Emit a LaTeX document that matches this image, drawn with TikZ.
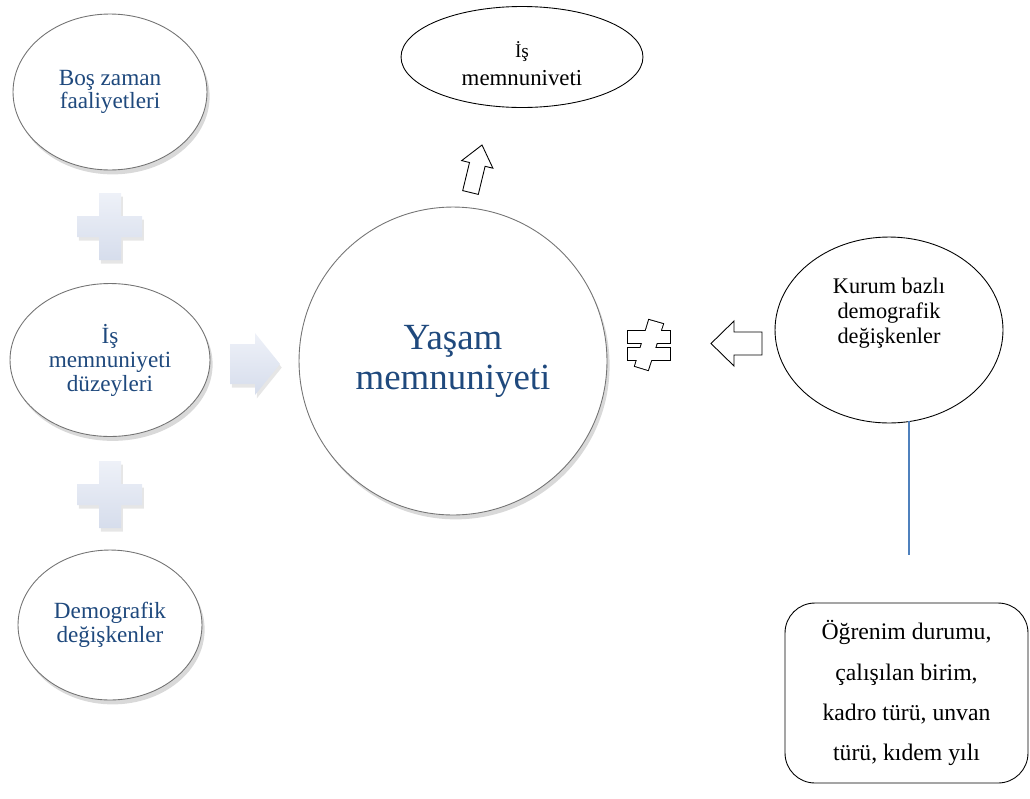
\documentclass[tikz,border=0pt]{standalone}
\usepackage{fontspec}
\setmainfont{Liberation Serif}
\definecolor{titleBlue}{RGB}{31, 73, 125}
\definecolor{lineBlue}{RGB}{79, 129, 189}
\definecolor{plusTop}{RGB}{238, 241, 248}
\definecolor{plusBottom}{RGB}{214, 221, 236}
\usetikzlibrary{shapes.geometric, shadows, positioning}

\tikzset{
    bubble/.style={ellipse, draw=black!55, line width=0.5pt, fill=white, inner sep=0pt,
        align=center, text=titleBlue,
        drop shadow={shadow xshift=1.5pt, shadow yshift=-2.5pt, opacity=0.3}},
    outlined/.style={ellipse, draw=black, line width=0.5pt, fill=white, inner sep=0pt, align=center},
    softblock/.style={top color=plusTop, bottom color=plusBottom,
        drop shadow={shadow xshift=1pt, shadow yshift=-2pt, opacity=0.2}},
    hollowblock/.style={draw=black, line width=0.5pt, fill=white, line join=miter}
}

\begin{document}
\begin{tikzpicture}[x=0.02cm, y=-0.02cm]
    \useasboundingbox (0,0) rectangle (1030,798);

    % Left column of factors
    \node[bubble, minimum width=3.88cm, minimum height=3.12cm,
        font=\fontsize{13.2}{13.5}\selectfont] (bosZaman) at (110,92) {Boş zaman\\faaliyetleri};
    \node[bubble, minimum width=4cm, minimum height=3.06cm,
        font=\fontsize{13.2}{13.7}\selectfont] (isDuzey) at (110,360) {İş\\memnuniyeti\\düzeyleri};
    \node[bubble, minimum width=3.68cm, minimum height=3cm,
        font=\fontsize{13.2}{13.7}\selectfont] (demografik) at (110,625) {Demografik\\değişkenler};

    % Plus signs between them
    \foreach \cy in {226.5, 494.5} {
        \shade[softblock] (99,{\cy-33.5}) -- (121,{\cy-33.5}) -- (121,{\cy-10.5}) -- (142,{\cy-10.5})
            -- (142,{\cy+10.5}) -- (121,{\cy+10.5}) -- (121,{\cy+33.5}) -- (99,{\cy+33.5})
            -- (99,{\cy+10.5}) -- (77,{\cy+10.5}) -- (77,{\cy-10.5}) -- (99,{\cy-10.5}) -- cycle;
    }

    % Light arrow into the centre
    \shade[softblock] (230,344) -- (255,344) -- (255,333) -- (280,364) -- (255,395)
        -- (255,384) -- (230,384) -- cycle;

    % Centre
    \node[bubble, circle, minimum size=6.16cm,
        font=\fontsize{21}{22.8}\selectfont] (yasam) at (453,361) {Yaşam\\memnuniyeti};

    % Top outcome
    \node[outlined, minimum width=4.84cm, minimum height=2.02cm] (isMemnun) at (522,57) {};
    \node[align=center, font=\fontsize{13}{16}\selectfont] (isMemnunText) at (522,64)
        {{\fontsize{11}{16}\selectfont İş}\\memnuniveti};
    \draw[hollowblock] (462.7,190.6) -- (469.5,162.5) -- (461.7,160.6) -- (482,145)
        -- (492.9,168.2) -- (485.1,166.3) -- (478.3,194.4) -- cycle;

    % Not-equal sign
    \draw[line width=1.1pt] (628,331) rectangle (670,343) (628,348) rectangle (670,360)
        (649,320) -- (663,324) -- (648,370) -- (635,366) -- cycle;
    \fill[white] (628,331) rectangle (670,343);
    \fill[white] (628,348) rectangle (670,360);
    \fill[white] (649,320) -- (663,324) -- (648,370) -- (635,366) -- cycle;

    % Arrow from the right
    \draw[hollowblock] (762,332) -- (734,332) -- (734,321) -- (711,343.5) -- (734,366)
        -- (734,355) -- (762,355) -- cycle;

    % Institutional variables
    \node[outlined, minimum width=4.56cm, minimum height=3.72cm] (kurum) at (889,330) {};
    \node[align=center, font=\fontsize{12.7}{14.3}\selectfont] (kurumText) at (889,313)
        {Kurum bazlı\\demografik\\değişkenler};

    \coordinate (lineEnd) at (909,555);
    \draw[lineBlue, line width=1.2pt] (lineEnd |- kurum.south) ++(0,-2) -- (lineEnd);

    \node[draw, line width=0.5pt, rounded corners=17pt, minimum width=4.86cm, minimum height=3.6cm,
        align=center, font=\fontsize{13.5}{22.8}\selectfont] (kurumListe) at (906.5,693)
        {Öğrenim durumu,\\çalışılan birim,\\kadro türü, unvan\\türü, kıdem yılı};
\end{tikzpicture}
\end{document}
